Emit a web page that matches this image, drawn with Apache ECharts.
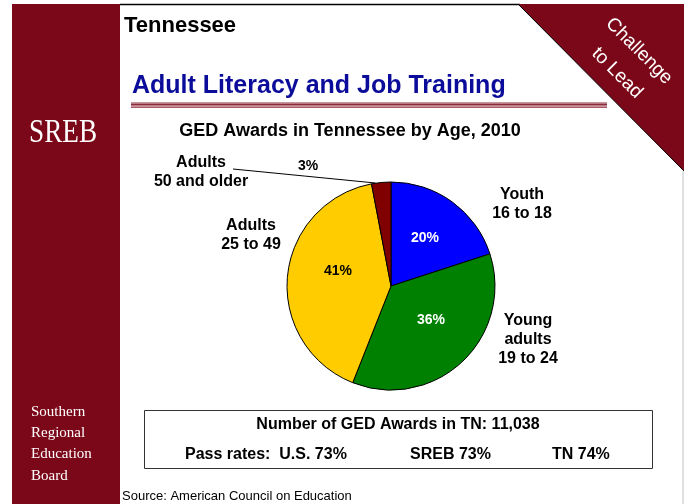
<!DOCTYPE html>
<html>
<head>
<meta charset="utf-8">
<script src="https://cdn.jsdelivr.net/npm/echarts@6/dist/echarts.min.js"></script>
<style>
  html, body { margin: 0; padding: 0; background: #fff; }
  #my_chart { width: 684px; height: 504px; }
</style>
</head>
<body>
<div id="my_chart"></div>
<script>
  // data
  var ageGroups = ['Youth\n16 to 18', 'Young\nadults\n19 to 24', 'Adults\n25 to 49', 'Adults\n50 and older'];
  var shares = [20, 36, 41, 3];
  var sliceColors = ['#0000ff', '#008000', '#ffcc00', '#800000'];
  var pctColors = ['#ffffff', '#ffffff', '#000000', '#000000'];
  var gedTotal = '11,038';
  var passRates = [['U.S.', 73], ['SREB', 73], ['TN', 74]];

  // label spots (centre of each label block)
  var pctPos = [[425, 238], [431, 320], [338, 271], [308, 166]];
  var namePos = [[522, 204], [528, 340], [251, 235], [201, 172]];

  var FONT = '"Liberation Sans", Arial, sans-serif';
  var SERIF = '"Liberation Serif", "Times New Roman", serif';
  var MAROON = '#7b0818';

  var my_chart = echarts.init(document.getElementById('my_chart'), null, { renderer: 'canvas' });

  function txt(x, y, text, size, opts) {
    opts = opts || {};
    return {
      type: 'text', x: x, y: y, rotation: opts.rotation || 0, scaleX: opts.scaleX || 1, z: 10,
      style: {
        text: text,
        font: (opts.weight || 'bold') + ' ' + size + 'px ' + (opts.family || FONT),
        fill: opts.color || '#000',
        align: opts.align || 'left',
        verticalAlign: 'middle'
      }
    };
  }

  var graphics = [
    // left band
    { type: 'rect', shape: { x: 12, y: 4, width: 108, height: 500 }, style: { fill: MAROON } },
    // top border
    { type: 'line', shape: { x1: 120, y1: 4.5, x2: 520, y2: 4.5 }, style: { stroke: '#000', lineWidth: 1.5 } },
    // right border
    { type: 'line', shape: { x1: 683, y1: 171, x2: 683, y2: 504 }, style: { stroke: '#c0c0c0', lineWidth: 1 } },
    // corner
    { type: 'polygon', shape: { points: [[518, 4], [684, 4], [684, 171]] }, style: { fill: MAROON } },
    { type: 'line', shape: { x1: 518, y1: 4, x2: 684, y2: 171 }, style: { stroke: '#000', lineWidth: 1 } },
    // title underline
    { type: 'rect', shape: { x: 131, y: 102, width: 476, height: 6 }, style: { fill: '#c9959c' } },
    { type: 'line', shape: { x1: 131, y1: 104.5, x2: 607, y2: 104.5 }, style: { stroke: '#8c2d3c', lineWidth: 1.5 } },
    { type: 'line', shape: { x1: 131, y1: 107.5, x2: 607, y2: 107.5 }, style: { stroke: '#a85866', lineWidth: 1 } },
    // info box
    { type: 'rect', shape: { x: 144.5, y: 410.5, width: 508, height: 58 }, style: { fill: '#fff', stroke: '#333', lineWidth: 1 } },

    txt(124, 25.5, 'Tennessee', 22),
    txt(132, 86.5, 'Adult Literacy and Job Training', 25, { color: '#0c0c9a' }),
    txt(350, 130.7, 'GED Awards in Tennessee by Age, 2010', 18, { align: 'center' }),
    txt(29, 133, 'SREB', 34, { family: SERIF, weight: 'normal', color: '#fff', scaleX: 0.8 }),
    txt(639, 51, 'Challenge', 19, { weight: 'normal', color: '#fff', align: 'center', rotation: -Math.PI / 4 }),
    txt(617, 73, 'to Lead', 19, { weight: 'normal', color: '#fff', align: 'center', rotation: -Math.PI / 4 }),
    txt(398, 424.5, 'Number of GED Awards in TN: ' + gedTotal, 16, { align: 'center' }),
    txt(185, 454.5, 'Pass rates:  ' + passRates[0][0] + ' ' + passRates[0][1] + '%', 16),
    txt(410, 454.5, passRates[1][0] + ' ' + passRates[1][1] + '%', 16),
    txt(552, 454.5, passRates[2][0] + ' ' + passRates[2][1] + '%', 16),
    txt(122, 496.5, 'Source: American Council on Education', 13, { weight: 'normal' })
  ];
  ['Southern', 'Regional', 'Education', 'Board'].forEach(function (w, i) {
    graphics.push(txt(31, 411.8 + i * 21.3, w, 15, { family: SERIF, weight: 'normal', color: '#fff' }));
  });

  my_chart.setOption({
    animation: false,
    backgroundColor: '#fff',
    graphic: graphics,
    series: [{
      type: 'pie',
      silent: true,
      center: [391, 286],
      radius: 104,
      startAngle: 90,
      clockwise: true,
      avoidLabelOverlap: false,
      itemStyle: { borderColor: '#000', borderWidth: 1 },
      label: { show: true, position: 'inside', formatter: '{c}%', fontFamily: FONT, fontWeight: 'bold', fontSize: 14 },
      labelLine: { show: false },
      labelLayout: function (p) {
        var pos = pctPos[p.dataIndex];
        return { x: pos[0], y: pos[1], align: 'center', verticalAlign: 'middle' };
      },
      data: shares.map(function (v, i) {
        return { name: ageGroups[i], value: v, itemStyle: { color: sliceColors[i] }, label: { color: pctColors[i] } };
      })
    }, {
      type: 'pie',
      silent: true,
      center: [391, 286],
      radius: 104,
      startAngle: 90,
      clockwise: true,
      avoidLabelOverlap: false,
      itemStyle: { color: 'rgba(0,0,0,0)', borderWidth: 0 },
      label: { show: true, position: 'outside', formatter: '{b}', fontFamily: FONT, fontWeight: 'bold', fontSize: 16, lineHeight: 19, color: '#000', align: 'center' },
      labelLine: { show: true, length: 5, length2: 5, lineStyle: { color: '#000', width: 1 } },
      labelLayout: function (p) {
        var pos = namePos[p.dataIndex];
        var out = { x: pos[0], y: pos[1], align: 'center', verticalAlign: 'middle' };
        if (p.dataIndex === 3) {
          // leader from the label to the top of the thin slice
          var end = [p.rect.x + p.rect.width * 0.2, p.rect.y + 1];
          var start = [pos[0] + 32, pos[1] - 3];
          out.labelLinePoints = [start, [(start[0] + end[0]) / 2, (start[1] + end[1]) / 2], end];
        }
        return out;
      },
      data: shares.map(function (v, i) {
        return { name: ageGroups[i], value: v, labelLine: { show: i === 3 } };
      })
    }]
  });
</script>
</body>
</html>
